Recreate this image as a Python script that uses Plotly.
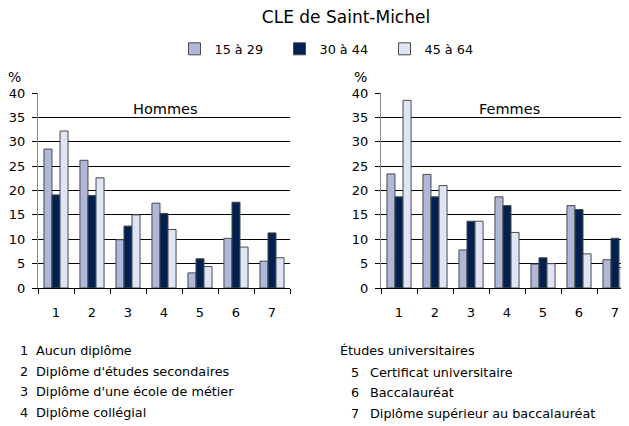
import plotly.graph_objects as go

categories = ["1", "2", "3", "4", "5", "6", "7"]
series_names = ["15 à 29", "30 à 44", "45 à 64"]
hommes_15_29 = [28.5, 26.2, 9.9, 17.4, 3.1, 10.2, 5.5]
hommes_30_44 = [19.1, 19.0, 12.7, 15.3, 6.0, 17.6, 11.3]
hommes_45_64 = [32.2, 22.6, 15.0, 12.0, 4.4, 8.4, 6.2]
femmes_15_29 = [23.4, 23.3, 7.8, 18.7, 4.9, 16.9, 5.8]
femmes_30_44 = [18.7, 18.7, 13.7, 16.9, 6.2, 16.1, 10.2]
femmes_45_64 = [38.5, 21.0, 13.7, 11.4, 5.0, 7.0, 4.2]
y_ticks = [0, 5, 10, 15, 20, 25, 30, 35, 40]
left_notes = ["1", "2", "3", "4"]
left_texts = ["Aucun diplôme", "Diplôme d'études secondaires",
              "Diplôme d'une école de métier", "Diplôme collégial"]
right_header = "Études universitaires"
right_notes = ["5", "6", "7"]
right_texts = ["Certificat universitaire", "Baccalauréat",
               "Diplôme supérieur au baccalauréat"]

colors = ["#b0b8d9", "#00214f", "#dfe5f4"]
FONT = "DejaVu Sans"
OFF = 8  # browser body margin
W, H = 629, 426 - OFF


def fx(px):
    return (px - OFF) / W


def fy(py):
    return 1 - (py - OFF) / H


fig = go.Figure()
for i, (name, hv, fv) in enumerate(zip(series_names,
                                       [hommes_15_29, hommes_30_44, hommes_45_64],
                                       [femmes_15_29, femmes_30_44, femmes_45_64])):
    fig.add_trace(go.Bar(x=categories, y=hv, name=name, marker_color=colors[i],
                         marker_line=dict(color="#4a4a4a", width=1),
                         xaxis="x", yaxis="y", legendgroup=name))
    fig.add_trace(go.Bar(x=categories, y=fv, name=name, marker_color=colors[i],
                         marker_line=dict(color="#4a4a4a", width=1),
                         xaxis="x2", yaxis="y2", legendgroup=name, showlegend=False))

xa = dict(type="category", tickson="boundaries", ticks="outside", ticklen=5,
          tickcolor="#000", showline=True, linecolor="#000", linewidth=1,
          showgrid=False, ticklabelstandoff=12, automargin=False,
          tickfont=dict(family=FONT, size=13, color="#000"))
ya = dict(range=[0, 40], tickvals=y_ticks, showgrid=True, gridcolor="#000",
          gridwidth=1, showline=True, linecolor="#888", linewidth=1,
          ticks="outside", ticklen=5, tickcolor="#000", zeroline=False,
          automargin=False, ticklabelstandoff=4,
          tickfont=dict(family=FONT, size=13, color="#000"))

fig.update_layout(
    width=W, height=H,
    margin=dict(l=0, r=0, t=0, b=0, autoexpand=False),
    paper_bgcolor="white", plot_bgcolor="white",
    barmode="group", bargap=0.33, bargroupgap=0,
    title=dict(text="CLE de Saint-Michel", x=fx(346), xanchor="center",
               y=fy(17), yanchor="middle", automargin=False,
               font=dict(family=FONT, size=17, color="#000")),
    legend=dict(orientation="h", x=fx(332), xanchor="center", y=fy(49),
                yanchor="middle", font=dict(family=FONT, size=12.8, color="#000"),
                entrywidth=60, traceorder="normal", itemwidth=30),
    xaxis=dict(domain=[fx(38), fx(290)], anchor="y", range=[-0.5, 6.5], **xa),
    yaxis=dict(domain=[fy(288), fy(93)], anchor="x", **ya),
    xaxis2=dict(domain=[fx(381), fx(633)], anchor="y2", range=[-0.5, 6.5], **xa),
    yaxis2=dict(domain=[fy(288), fy(93)], anchor="x2", **ya),
)

ann = []


def add(text, x, y, size=12.8, xanchor="left", family=FONT):
    ann.append(dict(text=text, x=fx(x), y=fy(y), xref="paper", yref="paper",
                    xanchor=xanchor, yanchor="middle", showarrow=False,
                    font=dict(family=family, size=size, color="#000")))


add("%", 14, 77, size=14, xanchor="center")
add("%", 360, 77, size=14, xanchor="center")
add("Hommes", 166, 109, size=14.5, xanchor="center")
add("Femmes", 509, 109, size=14.5, xanchor="center")
ys_left = [350, 371, 391, 412]
for n, t, yy in zip(left_notes, left_texts, ys_left):
    add(n, 18, yy)
    add(t, 34, yy)
add(right_header, 338, 350)
ys_right = [372, 392, 413]
for n, t, yy in zip(right_notes, right_texts, ys_right):
    add(n, 349, yy)
    add(t, 368, yy)
fig.update_layout(annotations=ann)

fig.write_html("out.html")
